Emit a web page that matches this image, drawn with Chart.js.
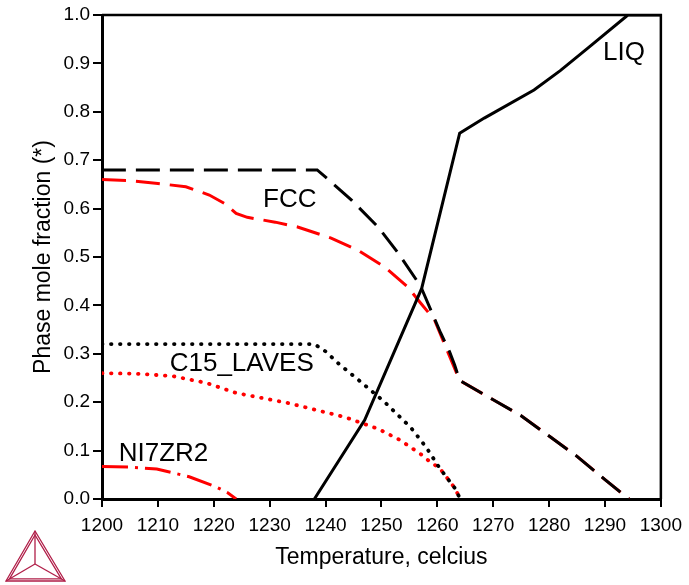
<!DOCTYPE html>
<html>
<head>
<meta charset="utf-8">
<script src="https://cdn.jsdelivr.net/npm/chart.js@4.4.1/dist/chart.umd.min.js"></script>
<style>
  html, body { margin: 0; padding: 0; background: #fff; }
  #wrap { width: 689px; height: 585px; }
</style>
</head>
<body>
<div id="wrap"><canvas id="phases" width="689" height="585"></canvas></div>
<script>
// temperature (celcius) and phase mole fraction
var liqT = [1238, 1247, 1257.2, 1264, 1268.4, 1277.3, 1282, 1287.2, 1294.1, 1300];
var liqF = [0, 0.163, 0.435, 0.756, 0.787, 0.845, 0.885, 0.934, 1.0, 1.0];

var fccBlackT = [1200, 1238.5, 1240.5, 1244.6, 1249.4, 1253, 1257, 1260.6, 1262.2, 1263.1, 1264, 1270, 1275, 1280, 1285, 1290, 1294.3];
var fccBlackF = [0.68, 0.68, 0.66, 0.618, 0.562, 0.508, 0.44, 0.343, 0.304, 0.277, 0.245, 0.205, 0.172, 0.13, 0.088, 0.04, 0];

var fccRedT = [1200, 1205, 1210, 1215, 1219.2, 1222, 1224, 1226, 1231, 1235, 1241, 1245.8, 1250.6, 1254.7, 1257, 1259.5, 1262, 1264, 1270, 1275, 1280, 1285, 1290, 1294.3];
var fccRedF = [0.66, 0.658, 0.652, 0.645, 0.628, 0.61, 0.59, 0.582, 0.572, 0.562, 0.539, 0.514, 0.479, 0.438, 0.405, 0.37, 0.3, 0.245, 0.205, 0.172, 0.13, 0.088, 0.04, 0];

var lavesBlackT = [1200, 1238, 1240, 1242.3, 1246, 1250.6, 1255.3, 1258, 1260.4, 1263.1, 1264.1];
var lavesBlackF = [0.32, 0.32, 0.305, 0.28, 0.245, 0.2, 0.147, 0.107, 0.064, 0.023, 0];

var lavesRedT = [1200, 1206, 1212.6, 1218.6, 1224, 1233.4, 1243.5, 1249.4, 1253.3, 1257, 1258.8, 1260.4, 1263.1, 1264.1];
var lavesRedF = [0.26, 0.259, 0.254, 0.24, 0.219, 0.198, 0.169, 0.145, 0.122, 0.093, 0.076, 0.064, 0.023, 0];

var ni7zr2T = [1200, 1205, 1209.8, 1215.6, 1220.4, 1222.5, 1224];
var ni7zr2F = [0.067, 0.066, 0.062, 0.046, 0.025, 0.013, 0];

var xTicks = [1200, 1300, 10];
var yTicks = [0, 1, 0.1];

var phaseLabels = ["LIQ", "FCC", "C15_LAVES", "NI7ZR2"];
var labelT = [1293.4, 1233.6, 1225, 1211];
var labelF = [0.9225, 0.619, 0.28, 0.093];

function pts(xs, ys) {
  return xs.map(function (x, i) { return { x: x, y: ys[i] }; });
}

var FONT = "'Liberation Sans', Arial, sans-serif";
var DASH = [24, 10];

// length along a drawn line up to point index n (pixels)
function pathLen(meta, n) {
  var L = 0;
  for (var i = 1; i <= n; i++) {
    var a = meta.data[i - 1], b = meta.data[i];
    L += Math.hypot(b.x - a.x, b.y - a.y);
  }
  return L;
}

// frame, phase names and the logo
var extras = {
  id: "extras",
  beforeDatasetsDraw: function (chart) {
    // line up the black FCC dashes with the red ones where they coincide
    var black = chart.getDatasetMeta(1), red = chart.getDatasetMeta(3);
    var jb = fccBlackT.indexOf(1264), jr = fccRedT.indexOf(1264);
    var off = pathLen(red, jr) - pathLen(black, jb);
    var period = DASH[0] + DASH[1];
    off = ((off % period) + period) % period;
    black.dataset.options.borderDashOffset = -off;
  },
  afterDatasetsDraw: function (chart) {
    var ctx = chart.ctx, a = chart.chartArea;
    var xs = chart.scales.x, ys = chart.scales.y;
    ctx.save();
    ctx.strokeStyle = "#000";
    ctx.lineWidth = 2.5;
    ctx.beginPath();
    ctx.moveTo(a.left, a.top);
    ctx.lineTo(a.right, a.top);
    ctx.lineTo(a.right, a.bottom);
    ctx.stroke();

    ctx.fillStyle = "#000";
    ctx.font = "26px " + FONT;
    ctx.textAlign = "center";
    ctx.textBaseline = "middle";
    phaseLabels.forEach(function (t, i) {
      ctx.fillText(t, xs.getPixelForValue(labelT[i]), ys.getPixelForValue(labelF[i]));
    });
    ctx.restore();
  },
  afterDraw: function (chart) {
    var ctx = chart.ctx;
    var top = [35, 531], bl = [6, 581], br = [65, 581], c = [35, 564];
    ctx.save();
    ctx.strokeStyle = "rgb(176, 30, 72)";
    ctx.lineWidth = 1.3;
    function tri(p, q, r) {
      ctx.beginPath();
      ctx.moveTo(p[0], p[1]); ctx.lineTo(q[0], q[1]); ctx.lineTo(r[0], r[1]); ctx.closePath();
      ctx.stroke();
    }
    function lerp(p, q, t) { return [p[0] + (q[0] - p[0]) * t, p[1] + (q[1] - p[1]) * t]; }
    tri(top, bl, br);
    tri(lerp(top, c, 0.12), lerp(bl, c, 0.12), lerp(br, c, 0.12));
    [top, bl, br].forEach(function (p) {
      ctx.beginPath();
      ctx.moveTo(p[0], p[1]); ctx.lineTo(c[0], c[1]);
      ctx.stroke();
    });
    ctx.restore();
  }
};

function line(data, color, dash, width) {
  return {
    data: data,
    borderColor: color,
    borderWidth: width || 3,
    borderDash: dash,
    borderCapStyle: dash.length && dash[0] < 2 ? "round" : "butt",
    pointRadius: 0,
    tension: 0,
    fill: false
  };
}

var ctx = document.getElementById("phases").getContext("2d");
var chart = new Chart(ctx, {
  type: "line",
  data: {
    datasets: [
      line(pts(liqT, liqF), "#000", [], 3),
      line(pts(fccBlackT, fccBlackF), "#000", DASH, 3),
      line(pts(lavesBlackT, lavesBlackF), "#000", [0.5, 8.5], 3.8),
      line(pts(fccRedT, fccRedF), "#ff0000", DASH, 3),
      line(pts(lavesRedT, lavesRedF), "#ff0000", [0.5, 8.5], 3.8),
      line(pts(ni7zr2T, ni7zr2F), "#ff0000", [26, 7, 3, 7], 3)
    ]
  },
  options: {
    responsive: false,
    animation: false,
    events: [],
    layout: { padding: { top: 15, right: 24, left: 0, bottom: 0 } },
    plugins: { legend: { display: false }, tooltip: { enabled: false } },
    scales: {
      x: {
        type: "linear",
        min: xTicks[0], max: xTicks[1],
        afterFit: function (s) { s.height = 86; },
        ticks: {
          stepSize: xTicks[2], color: "#000", font: { family: FONT, size: 19 }, padding: 7, maxRotation: 0,
          callback: function (v) { return String(v); }
        },
        grid: { display: true, drawOnChartArea: false, drawTicks: true, tickLength: 8, color: "#000", lineWidth: 2 },
        border: { display: true, color: "#000", width: 3 },
        title: { display: true, text: "Temperature, celcius", color: "#000", font: { family: FONT, size: 23 }, padding: { top: 0, bottom: 14 } }
      },
      y: {
        type: "linear",
        min: yTicks[0], max: yTicks[1],
        afterFit: function (s) { s.width = 102; },
        ticks: {
          stepSize: yTicks[2], color: "#000", font: { family: FONT, size: 19 }, padding: 3,
          callback: function (v) { return v.toFixed(1); }
        },
        grid: { display: true, drawOnChartArea: false, drawTicks: true, tickLength: 9, color: "#000", lineWidth: 2 },
        border: { display: true, color: "#000", width: 3 },
        title: { display: true, text: "Phase mole fraction (*)", color: "#000", font: { family: FONT, size: 23 }, padding: { top: 30, bottom: 0 } }
      }
    }
  },
  plugins: [extras]
});
</script>
</body>
</html>
